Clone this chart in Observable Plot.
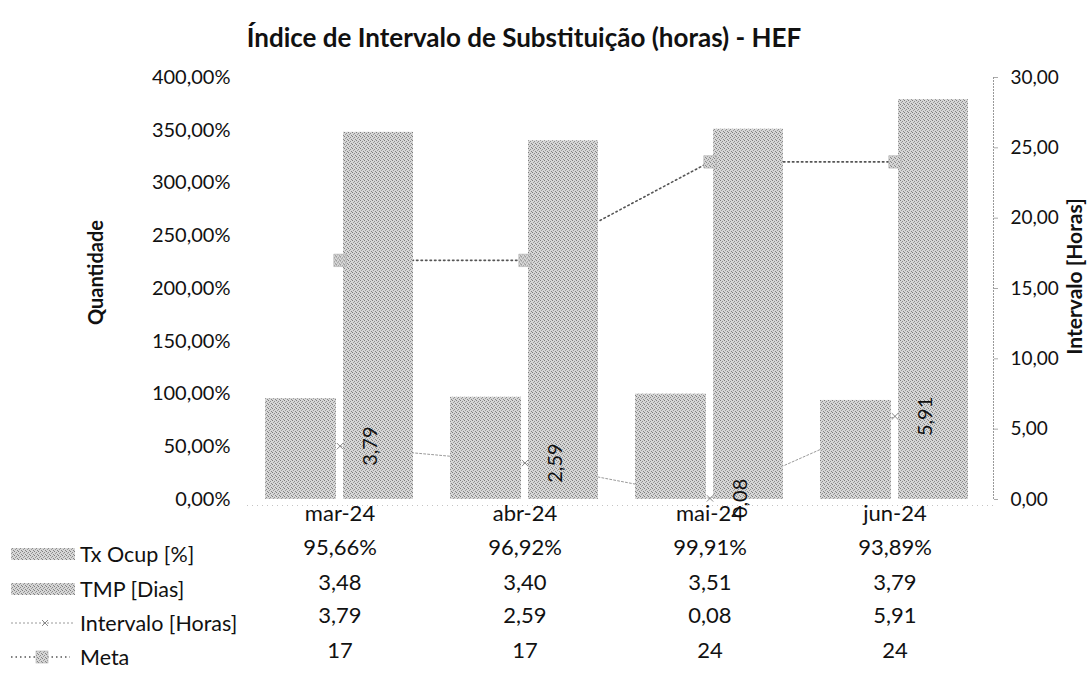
<!DOCTYPE html>
<html><head><meta charset="utf-8">
<script src="https://cdn.jsdelivr.net/npm/d3@7"></script>
<script src="https://cdn.jsdelivr.net/npm/@observablehq/plot@0.6"></script>
<style>
body{margin:0;background:#fff;font-family:Lato,"Open Sans",sans-serif;color:#111;}
#wrap{position:relative;width:1087px;height:679px;overflow:hidden;background:#fff;}
#title{position:absolute;left:0;top:21px;width:1048px;line-height:32px;text-align:center;font-weight:bold;font-size:26px;}
#chart{position:absolute;left:0;top:60px;}
.lg{position:absolute;left:10px;height:30px;display:flex;align-items:center;font-size:21.5px;white-space:nowrap;}
.lg svg{margin-right:4px;}
</style></head><body>
<div id="wrap">
  <div id="title">Índice de Intervalo de Substituição (horas) - HEF</div>
  <div id="chart"></div>
  <div id="legend"></div>
</div>
<script>
// ---- data ----
const months = ["mar-24", "abr-24", "mai-24", "jun-24"];
const txOcup = [95.66, 96.92, 99.91, 93.89];        // Tx Ocup [%]
const tmpDias = [3.48, 3.40, 3.51, 3.79];           // TMP [Dias]
const intervaloHoras = [3.79, 2.59, 0.08, 5.91];    // Intervalo [Horas]
const meta = [17, 17, 24, 24];                      // Meta
const seriesNames = ["Tx Ocup [%]", "TMP [Dias]", "Intervalo [Horas]", "Meta"];
const leftTicks = [0, 50, 100, 150, 200, 250, 300, 350, 400];
const rightTicks = [0, 5, 10, 15, 20, 25, 30];

const locale = d3.formatLocale({decimal: ",", thousands: ".", grouping: [3], currency: ["R$", ""]});
const fmt2 = locale.format(".2f");
const k = 400 / 30; // right axis (0-30) onto left axis (0-400%)

const data = months.map((m, i) => ({month: m, tx: txOcup[i], tmp: tmpDias[i], intervalo: intervaloHoras[i], meta: meta[i]}));

const tbl = {fontSize: 22, fill: "#111"};
const plot = Plot.plot({
  width: 1087, height: 619,
  marginTop: 17, marginBottom: 180, marginLeft: 247, marginRight: 94,
  style: {fontFamily: "Lato, 'Open Sans', sans-serif", fontSize: "20px", color: "#111", background: "white", overflow: "visible"},
  x: {domain: months, padding: 0, insetRight: 6, axis: null},
  y: {domain: [0, 400]},
  marks: [
    Plot.ruleY([0], {stroke: "#c4c4c4", strokeDasharray: "1,4", dy: 6}),
    Plot.line(data, {x: "month", y: d => d.intervalo * k, stroke: "#9a9a9a", strokeWidth: 1, strokeDasharray: "2,2"}),
    Plot.line(data, {x: "month", y: d => d.meta * k, stroke: "#555", strokeWidth: 1.6, strokeDasharray: "1.5,3"}),
    Plot.barY(data, {x: "month", y: "tx", fill: "url(#tex)", insetLeft: 18, insetRight: 96}),
    Plot.barY(data, {x: "month", y: d => d.tmp * 100, fill: "url(#tex)", insetLeft: 96, insetRight: 19}),
    Plot.dot(data, {x: "month", y: d => d.intervalo * k, symbol: "times", r: 3, stroke: "#888", strokeWidth: 1}),
    Plot.dot(data, {x: "month", y: d => d.meta * k, symbol: "square", r: 7, fill: "url(#tex)", stroke: "#b0b0b0", strokeWidth: 0.6}),
    Plot.text(data, {x: "month", y: d => d.intervalo * k, text: d => fmt2(d.intervalo), rotate: -90, dx: 31, fontSize: 20, fill: "#111"}),
    Plot.axisY({anchor: "left", ticks: leftTicks, tickSize: 0, tickPadding: 17, tickFormat: d => fmt2(d) + "%", label: null, fontSize: 20, fill: "#111"}),
    Plot.axisY({anchor: "right", ticks: rightTicks.map(v => v * k), tickSize: 4, tickPadding: 13, tickFormat: v => fmt2(v / k), label: null, stroke: "#aaa", fontSize: 19, fill: "#111"}),
    Plot.frame({anchor: "right", stroke: "#999", strokeDasharray: "1,2"}),
    Plot.text(["Quantidade"], {frameAnchor: "left", textAnchor: "middle", dx: -151, dy: -16, rotate: -90, text: d => d, fontWeight: "bold", fontSize: 20, fill: "#111"}),
    Plot.text(["Intervalo [Horas]"], {frameAnchor: "right", textAnchor: "middle", dx: 82, dy: -12, rotate: -90, text: d => d, fontWeight: "bold", fontSize: 21, fill: "#111"}),
    // data table
    Plot.text(data, {x: "month", text: "month", frameAnchor: "bottom", dy: 21, ...tbl}),
    Plot.text(data, {x: "month", text: d => fmt2(d.tx) + "%", frameAnchor: "bottom", dy: 55, ...tbl}),
    Plot.text(data, {x: "month", text: d => fmt2(d.tmp), frameAnchor: "bottom", dy: 90, ...tbl}),
    Plot.text(data, {x: "month", text: d => fmt2(d.intervalo), frameAnchor: "bottom", dy: 123, ...tbl}),
    Plot.text(data, {x: "month", text: d => String(d.meta), frameAnchor: "bottom", dy: 158, ...tbl})
  ]
});

// halftone-like texture for bars
const ns = "http://www.w3.org/2000/svg";
const defs = document.createElementNS(ns, "defs");
const pat = document.createElementNS(ns, "pattern");
pat.setAttribute("id", "tex"); pat.setAttribute("width", 4); pat.setAttribute("height", 4);
pat.setAttribute("patternUnits", "userSpaceOnUse");
[[0,0,4,4,"#d6d6d6"],[0,0,1,1,"#7c7c7c"],[2,1,1,1,"#8c8c8c"],[1,2,1,1,"#999"],[3,3,1,1,"#858585"]].forEach(([x,y,w,h,c]) => {
  const r = document.createElementNS(ns, "rect");
  r.setAttribute("x", x); r.setAttribute("y", y); r.setAttribute("width", w); r.setAttribute("height", h); r.setAttribute("fill", c);
  pat.appendChild(r);
});
defs.appendChild(pat);
plot.insertBefore(defs, plot.firstChild);
document.getElementById("chart").appendChild(plot);

// legend column of the data table
const swatches = [
  `<svg width="66" height="14"><rect x="1" y="1" width="64" height="12" fill="url(#tex)"/></svg>`,
  `<svg width="66" height="14"><rect x="1" y="1" width="64" height="12" fill="url(#tex)"/></svg>`,
  `<svg width="66" height="14"><line x1="1" x2="65" y1="7" y2="7" stroke="#9a9a9a" stroke-dasharray="2,2"/><path d="M32,4L38,10M38,4L32,10" stroke="#888"/></svg>`,
  `<svg width="66" height="14"><line x1="1" x2="60" y1="7" y2="7" stroke="#555" stroke-width="1.6" stroke-dasharray="1.5,3"/><rect x="26" y="1" width="12" height="12" fill="url(#tex)" stroke="#b0b0b0" stroke-width="0.6"/></svg>`
];
const rowY = [554, 589, 623, 657];
const lg = document.getElementById("legend");
seriesNames.forEach((name, i) => {
  const d = document.createElement("div");
  d.className = "lg";
  d.style.top = (rowY[i] - 15) + "px";
  d.innerHTML = swatches[i] + `<span>${name}</span>`;
  lg.appendChild(d);
});
</script>
</body></html>
